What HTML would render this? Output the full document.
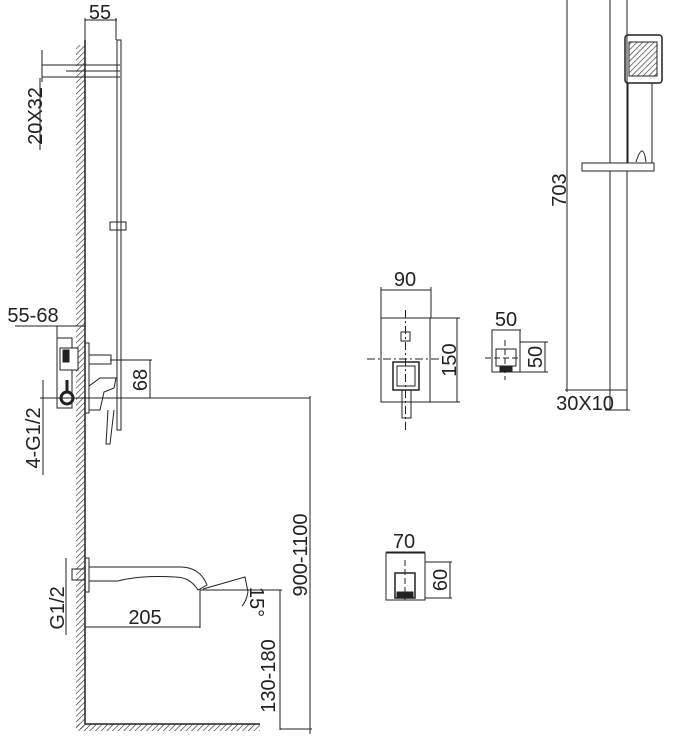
<!DOCTYPE html>
<html><head><meta charset="utf-8"><style>
html,body{margin:0;padding:0;background:#fff;}
svg{display:block;}
text{font-family:"Liberation Sans",sans-serif;fill:#222;font-size:20px;}
</style></head><body>
<svg width="673" height="749" viewBox="0 0 673 749" xmlns="http://www.w3.org/2000/svg">
<defs>
<pattern id="h" width="4" height="4" patternUnits="userSpaceOnUse" patternTransform="rotate(45)">
<line x1="0" y1="0" x2="0" y2="4" stroke="#333" stroke-width="1.3"/>
</pattern>
</defs>
<g stroke="#222" fill="none" stroke-width="1">
<rect x="76" y="45" width="9" height="684" fill="url(#h)" stroke="none"/>
<line x1="85" y1="40" x2="85" y2="724" stroke-width="1.5"/>
<rect x="76" y="724" width="184" height="7" fill="url(#h)" stroke="none"/>
<line x1="85" y1="724" x2="260" y2="724" stroke-width="1.5"/>
<line x1="85" y1="20" x2="117" y2="20"/>
<line x1="85" y1="18" x2="85" y2="45"/>
<line x1="116" y1="18" x2="116" y2="40"/>
<rect x="117" y="40" width="4" height="390"/>
<rect x="110" y="222" width="16" height="8"/>
<line x1="42" y1="65" x2="120" y2="65"/>
<line x1="42" y1="77" x2="120" y2="77"/>
<line x1="42" y1="50" x2="42" y2="82"/>
<line x1="66" y1="71" x2="120" y2="71"/>
<line x1="40" y1="150" x2="40" y2="78"/>
<line x1="15" y1="326" x2="85" y2="326"/>
<line x1="57" y1="326" x2="57" y2="342"/>
<rect x="57" y="338" width="15" height="70"/>
<rect x="60" y="348" width="18" height="22" fill="#fff"/>
<rect x="63" y="350" width="6" height="12" fill="#222"/>
<circle cx="67" cy="398" r="6" stroke-width="3"/>
<line x1="67" y1="380" x2="67" y2="392" stroke-width="3"/>
<rect x="85" y="343" width="4" height="70"/>
<rect x="89" y="355" width="22" height="9"/>
<path d="M89 386 L89 410 L100 410 L104 392 L114 388 L116 378 L100 378 Z"/>
<path d="M108 410 L106 444 L110 444 L114 410"/>
<line x1="40" y1="398" x2="120" y2="398"/>
<line x1="110" y1="360" x2="152" y2="360"/>
<line x1="120" y1="398" x2="310" y2="398"/>
<line x1="150" y1="360" x2="150" y2="398"/>
<line x1="310" y1="396" x2="310" y2="734"/>
<line x1="280" y1="729" x2="312" y2="729"/>
<line x1="43" y1="380" x2="43" y2="475"/>
<rect x="85" y="558" width="4" height="34"/>
<rect x="72" y="569" width="13" height="11"/>
<line x1="66" y1="558" x2="66" y2="635"/>
<path d="M89 567 L180 567 Q200 567 207 585 L198 590 Q190 577 175 577 Q140 575 118 581 L89 581"/>
<line x1="200" y1="589" x2="200" y2="628"/>
<line x1="200" y1="590" x2="282" y2="590"/>
<path d="M203 589 L245 577 L248 592 Q246 602 242 606"/>
<line x1="85" y1="627" x2="200" y2="627"/>
<line x1="280" y1="590" x2="280" y2="730"/>
<line x1="381" y1="290" x2="431" y2="290"/>
<line x1="381" y1="287" x2="381" y2="318"/>
<line x1="431" y1="287" x2="431" y2="318"/>
<rect x="381" y="318" width="49" height="84"/>
<line x1="430" y1="318" x2="460" y2="318"/>
<line x1="430" y1="402" x2="460" y2="402"/>
<line x1="457" y1="318" x2="457" y2="402"/>
<rect x="401" y="332" width="9" height="9"/>
<rect x="393" y="362" width="26" height="28" stroke-width="1.5"/>
<rect x="397" y="366" width="18" height="20"/>
<rect x="402" y="390" width="9" height="28"/>
<line x1="405.5" y1="310" x2="405.5" y2="432" stroke-dasharray="8,3,2,3"/>
<line x1="367" y1="359" x2="440" y2="359" stroke-dasharray="8,3,2,3"/>
<line x1="492" y1="330" x2="521" y2="330"/>
<rect x="492" y="330" width="28" height="42"/>
<line x1="520" y1="342" x2="548" y2="342"/>
<line x1="520" y1="372" x2="548" y2="372"/>
<line x1="545" y1="342" x2="545" y2="372"/>
<rect x="496" y="349" width="20" height="17"/>
<rect x="500" y="366" width="12" height="5" fill="#222"/>
<line x1="505" y1="340" x2="505" y2="380" stroke-dasharray="6,3"/>
<line x1="485" y1="358" x2="520" y2="358" stroke-dasharray="6,3"/>
<line x1="386" y1="552" x2="425" y2="552"/>
<rect x="386" y="553" width="39" height="47"/>
<line x1="425" y1="562" x2="452" y2="562"/>
<line x1="425" y1="598" x2="452" y2="598"/>
<line x1="450" y1="562" x2="450" y2="598"/>
<rect x="395" y="573" width="20" height="25" stroke-width="1.5"/>
<rect x="397" y="592" width="16" height="5" fill="#222"/>
<line x1="405" y1="560" x2="405" y2="600" stroke-dasharray="6,3"/>
<line x1="567" y1="0" x2="567" y2="392"/>
<line x1="565" y1="390" x2="627" y2="390"/>
<line x1="610" y1="0" x2="610" y2="410"/>
<line x1="627" y1="0" x2="627" y2="410"/>
<line x1="605" y1="410" x2="630" y2="410"/>
<rect x="625" y="35" width="37" height="48" rx="3" stroke-width="1.5"/>
<rect x="629" y="42" width="28" height="34" fill="url(#h)"/>
<path d="M628 83 L628 163 M652 83 L652 163"/>
<path d="M636 162 Q643 140 646 162"/>
<rect x="582" y="163" width="72" height="8" fill="#fff"/>
</g>
<text x="100" y="19" text-anchor="middle">55</text>
<text transform="translate(42,116) rotate(-90)" text-anchor="middle">20X32</text>
<text x="33" y="322" text-anchor="middle">55-68</text>
<text transform="translate(147,380) rotate(-90)" text-anchor="middle">68</text>
<text transform="translate(40,438) rotate(-90)" text-anchor="middle">4-G1/2</text>
<text transform="translate(64,608) rotate(-90)" text-anchor="middle">G1/2</text>
<text x="145" y="624" text-anchor="middle">205</text>
<text transform="translate(250,602) rotate(90)" text-anchor="middle" font-size="15">15°</text>
<text transform="translate(275,676) rotate(-90)" text-anchor="middle">130-180</text>
<text transform="translate(307,555) rotate(-90)" text-anchor="middle">900-1100</text>
<text x="405" y="286" text-anchor="middle">90</text>
<text transform="translate(456,360) rotate(-90)" text-anchor="middle">150</text>
<text x="506" y="326" text-anchor="middle">50</text>
<text transform="translate(542,357) rotate(-90)" text-anchor="middle">50</text>
<text x="404" y="548" text-anchor="middle">70</text>
<text transform="translate(447,580) rotate(-90)" text-anchor="middle">60</text>
<text transform="translate(566,190) rotate(-90)" text-anchor="middle">703</text>
<text x="585" y="410" text-anchor="middle">30X10</text>
</svg>
</body></html>
